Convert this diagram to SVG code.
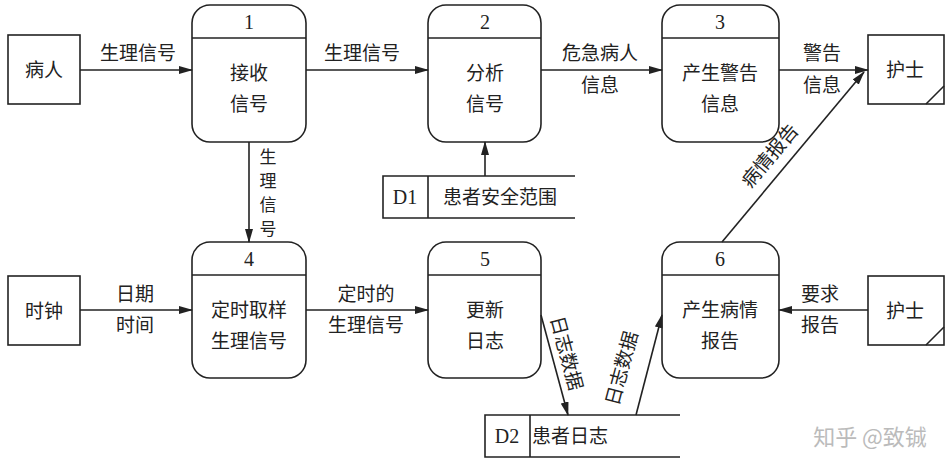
<svg xmlns="http://www.w3.org/2000/svg" width="951" height="476" viewBox="0 0 951 476">
<defs><marker id="ah" markerWidth="14" markerHeight="8" refX="13" refY="4" orient="auto" markerUnits="userSpaceOnUse"><path d="M0,0 L14,4 L0,8 Z" fill="#222"/></marker></defs>
<style>
.b{fill:#fff;stroke:#222;stroke-width:1.6}
.l{stroke:#222;stroke-width:1.6;fill:none}
.c{stroke:#222;stroke-width:1.6;fill:none;marker-end:url(#ah)}
text{font-family:"Noto Sans CJK SC","Liberation Serif",serif;font-size:19px;fill:#222;text-anchor:middle}
.n{font-family:"Liberation Serif",serif;font-size:20px}
.v{font-size:17px}
.w{font-family:"Noto Sans CJK SC",sans-serif;font-size:22px;fill:#bbb}
</style>
<rect width="951" height="476" fill="#fff"/>
<g id="ext-patient"><rect class="b" x="8" y="35" width="72" height="69"/><text x="44" y="77">病人</text></g>
<g id="ext-clock"><rect class="b" x="8" y="276" width="72" height="69"/><text x="44" y="318">时钟</text></g>
<g id="ext-nurse1"><rect class="b" x="868" y="35" width="76" height="69"/><path class="l" d="M926,104 L944,86"/><text x="905" y="77">护士</text></g>
<g id="ext-nurse2"><rect class="b" x="868" y="276" width="76" height="69"/><path class="l" d="M926,345 L944,327"/><text x="905" y="318">护士</text></g>
<g id="p1"><rect class="b" x="192" y="5" width="114" height="137" rx="18"/><path class="l" d="M192,38H306"/><text class="n" x="249" y="29">1</text><text x="249" y="80">接收</text><text x="249" y="111">信号</text></g>
<g id="p2"><rect class="b" x="428" y="5" width="113" height="137" rx="18"/><path class="l" d="M428,38H541"/><text class="n" x="485" y="29">2</text><text x="485" y="80">分析</text><text x="485" y="111">信号</text></g>
<g id="p3"><rect class="b" x="662" y="5" width="117" height="137" rx="18"/><path class="l" d="M662,38H779"/><text class="n" x="720" y="29">3</text><text x="720" y="80">产生警告</text><text x="720" y="111">信息</text></g>
<g id="p4"><rect class="b" x="192" y="242" width="114" height="136" rx="18"/><path class="l" d="M192,275H306"/><text class="n" x="249" y="266">4</text><text x="249" y="317">定时取样</text><text x="249" y="348">生理信号</text></g>
<g id="p5"><rect class="b" x="428" y="242" width="113" height="136" rx="18"/><path class="l" d="M428,275H541"/><text class="n" x="485" y="266">5</text><text x="485" y="317">更新</text><text x="485" y="348">日志</text></g>
<g id="p6"><rect class="b" x="662" y="242" width="117" height="136" rx="18"/><path class="l" d="M662,275H779"/><text class="n" x="720" y="266">6</text><text x="720" y="317">产生病情</text><text x="720" y="348">报告</text></g>
<g id="d1"><path class="l" d="M575,176H383V218H575M428,176V218"/><text class="n" x="405" y="204">D1</text><text x="500" y="204">患者安全范围</text></g>
<g id="d2"><path class="l" d="M680,415H485V457H680M530,415V457"/><text class="n" x="507" y="443">D2</text><text x="570" y="443">患者日志</text></g>
<g id="connectors">
<path class="c" d="M80,70H192"/><path class="c" d="M306,70H428"/><path class="c" d="M541,70H662"/><path class="c" d="M779,70H868"/>
<path class="c" d="M485,176V142"/><path class="c" d="M249,142V242"/>
<path class="c" d="M80,310H192"/><path class="c" d="M306,310H428"/><path class="c" d="M868,310H779"/>
<path class="c" d="M541,315L568,415"/><path class="c" d="M636,415L662,315"/><path class="c" d="M722,242L864,72"/>
</g>
<g id="labels">
<text x="138" y="60">生理信号</text><text x="362" y="60">生理信号</text>
<text x="600" y="60">危急病人</text><text x="600" y="92">信息</text>
<text x="822" y="60">警告</text><text x="822" y="92">信息</text>
<text class="v" x="268" y="163">生</text><text class="v" x="268" y="187">理</text><text class="v" x="268" y="211">信</text><text class="v" x="268" y="235">号</text>
<text x="135" y="301">日期</text><text x="135" y="332">时间</text>
<text x="366" y="301">定时的</text><text x="366" y="332">生理信号</text>
<text x="820" y="301">要求</text><text x="820" y="332">报告</text>
<text transform="translate(560,355) rotate(75)">日志数据</text>
<text transform="translate(628,370) rotate(-75)">日志数据</text>
<text transform="translate(775,160) rotate(-50)">病情报告</text>
<text class="w" x="870" y="445">知乎 @致铖</text>
</g>
</svg>
